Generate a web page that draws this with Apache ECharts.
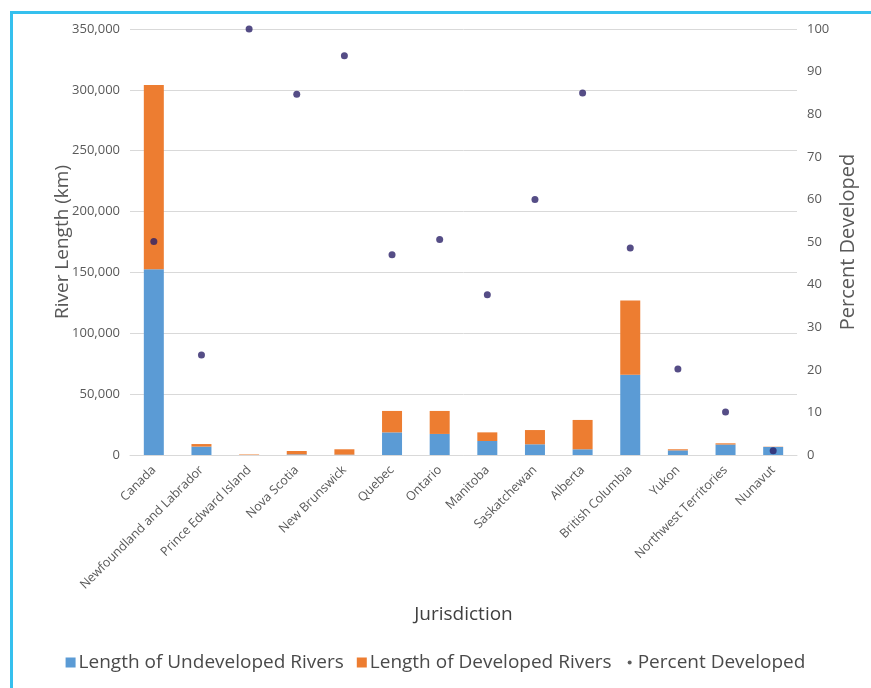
<!DOCTYPE html>
<html><head><meta charset="utf-8">
<script src="https://cdn.jsdelivr.net/npm/echarts@6/dist/echarts.min.js"></script>
<style>
html,body{margin:0;padding:0;background:#fff;}
#frame{position:absolute;left:10px;top:11px;width:861px;height:677px;border-left:3px solid #35C0EE;border-top:3px solid #35C0EE;box-sizing:border-box;}
#c{position:absolute;left:0;top:0;width:871px;height:688px;}
</style></head>
<body>
<div id="frame"></div>
<div id="c"></div>
<script>
const categories = ["Canada","Newfoundland and Labrador","Prince Edward Island","Nova Scotia","New Brunswick","Quebec","Ontario","Manitoba","Saskatchewan","Alberta","British Columbia","Yukon","Northwest Territories","Nunavut"];
const undeveloped = [152600, 6900, 0, 500, 300, 18600, 17300, 11500, 8800, 4700, 66000, 3800, 8600, 6600];
const developed   = [151400, 2100, 400, 2800, 4400, 17600, 18900, 7100, 11700, 24100, 61000, 900, 1000, 200];
const percentDeveloped = [50.1, 23.5, 100, 84.7, 93.7, 47, 50.6, 37.6, 60, 85, 48.6, 20.2, 10.1, 1];
const leftTicks = {min: 0, max: 350000, interval: 50000};
const rightTicks = {min: 0, max: 100, interval: 10};

const font = "'Open Sans', sans-serif";
const chart = echarts.init(document.getElementById('c'), null, {renderer: 'canvas'});
chart.setOption({
  backgroundColor: 'transparent',
  animation: false,
  textStyle: {fontFamily: font},
  grid: {left: 130, right: 74, top: 29, bottom: 233, containLabel: false},
  legend: {
    bottom: 11, left: 'center',
    itemGap: 13, itemWidth: 10, itemHeight: 10,
    textStyle: {fontFamily: font, fontSize: 19, color: '#4a4a4a', padding: [0, 0, 0, -2]},
    data: [
      {name: 'Length of Undeveloped Rivers', icon: 'rect'},
      {name: 'Length of Developed Rivers', icon: 'rect'},
      {name: 'Percent Developed', icon: 'path://M0,0 M3,5 a2,2 0 1,0 4,0 a2,2 0 1,0 -4,0 M10,10', itemStyle: {color: '#333'}}
    ]
  },
  xAxis: {
    type: 'category', data: categories,
    name: 'Jurisdiction', nameLocation: 'middle', nameGap: 150, nameMoveOverlap: false,
    nameTextStyle: {fontFamily: font, fontSize: 19, color: '#404040'},
    axisLine: {lineStyle: {color: '#d9d9d9'}},
    axisTick: {show: false},
    axisLabel: {rotate: 45, interval: 0, color: '#595959', fontSize: 12.5, fontFamily: font, margin: 13}
  },
  yAxis: [{
    type: 'value', min: leftTicks.min, max: leftTicks.max, interval: leftTicks.interval,
    name: 'River Length (km)', nameLocation: 'middle', nameGap: 58, nameMoveOverlap: false,
    nameTextStyle: {fontFamily: font, fontSize: 19, color: '#595959'},
    axisLine: {show: false}, axisTick: {show: false},
    axisLabel: {color: '#595959', fontSize: 13, fontFamily: font, margin: 10,
      formatter: v => v.toLocaleString('en-US')},
    splitLine: {lineStyle: {color: '#d9d9d9'}}
  }, {
    type: 'value', min: rightTicks.min, max: rightTicks.max, interval: rightTicks.interval,
    name: 'Percent Developed', nameLocation: 'middle', nameGap: 41, nameMoveOverlap: false,
    nameTextStyle: {fontFamily: font, fontSize: 20, color: '#595959'},
    axisLine: {show: false}, axisTick: {show: false},
    axisLabel: {color: '#595959', fontSize: 13, fontFamily: font, margin: 10},
    splitLine: {show: false}
  }],
  series: [{
    name: 'Length of Undeveloped Rivers', type: 'bar', stack: 'len', yAxisIndex: 0,
    data: undeveloped, barWidth: 20, itemStyle: {color: '#5B9BD5'}
  }, {
    name: 'Length of Developed Rivers', type: 'bar', stack: 'len', yAxisIndex: 0,
    data: developed, barWidth: 20, itemStyle: {color: '#ED7D31'}
  }, {
    name: 'Percent Developed', type: 'scatter', yAxisIndex: 1,
    data: percentDeveloped, symbol: 'circle', symbolSize: 7,
    itemStyle: {color: '#2A2068'}, z: 5
  }]
});
</script>
</body></html>
